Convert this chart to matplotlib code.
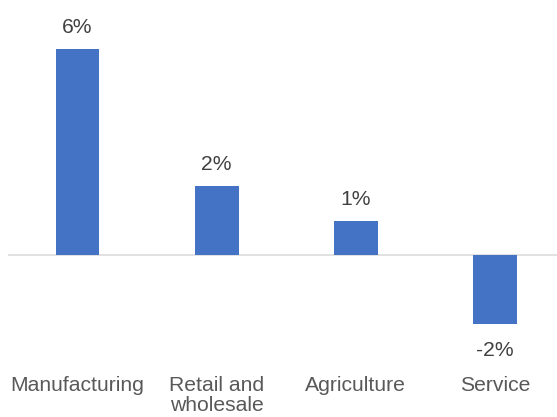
import matplotlib.pyplot as plt

# growth by sector, percent
categories = ["Manufacturing", "Retail and\nwholesale", "Agriculture", "Service"]
values = [6, 2, 1, -2]
value_labels = ["6%", "2%", "1%", "-2%"]

BAR_COLOR = "#4472C4"
TEXT_COLOR = "#595959"
VALUE_COLOR = "#404040"

plt.rcParams["font.family"] = ["Liberation Sans", "DejaVu Sans"]

fig = plt.figure(figsize=(5.57, 4.17), dpi=100)
ax = fig.add_axes([7.8 / 557, 0, 549.2 / 557, 1])

x = list(range(len(categories)))
bars = ax.bar(x, values, width=0.316, color=BAR_COLOR, zorder=2)
ax.axhline(0, color="#d9d9d9", linewidth=1.1, zorder=1)

ax.set_xlim(-0.5007, 3.445)
ax.set_ylim(-4.719, 7.428)
ax.axis("off")

for bar, val, lab in zip(bars, values, value_labels):
    cx = bar.get_x() + bar.get_width() / 2
    off = 15.5 if val >= 0 else -19.0
    ax.annotate(lab, (cx, val), xytext=(0, off), textcoords="offset points",
                ha="center", va="center", fontsize=15.2, color=VALUE_COLOR)

for xi, cat in zip(x, categories):
    ax.text(xi, -3.52, cat, ha="center", va="top", fontsize=15.2,
            color=TEXT_COLOR, linespacing=1.08)

fig.savefig("out.png", dpi=100)
